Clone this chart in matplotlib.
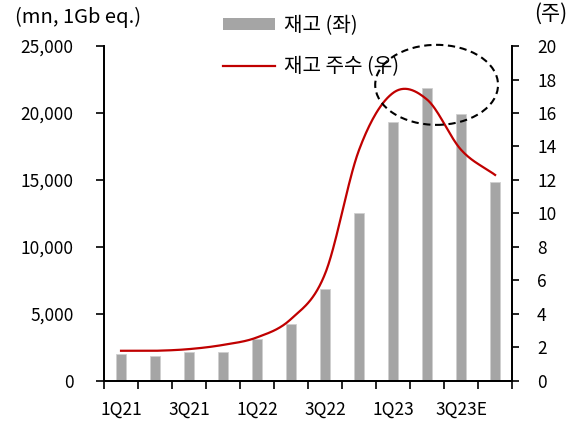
import numpy as np
import matplotlib
matplotlib.use("Agg")
import matplotlib.pyplot as plt
from matplotlib.patches import Ellipse, Patch
from matplotlib.lines import Line2D
from matplotlib.ticker import FuncFormatter

plt.rcParams['font.family'] = ['Noto Sans CJK KR', 'DejaVu Sans']

quarters = ['1Q21', '2Q21', '3Q21', '4Q21', '1Q22', '2Q22',
            '3Q22', '4Q22', '1Q23', '2Q23', '3Q23E', '4Q23E']
# inventory, mn 1Gb eq. (left axis)
inventory = [1990, 1840, 2140, 2140, 3160, 4230, 6870, 12510, 19350, 21840, 19925, 14875]
# inventory weeks (right axis)
weeks = [1.8, 1.8, 1.9, 2.15, 2.6, 3.7, 6.4, 13.8, 17.2, 16.8, 13.8, 12.3]


def smooth_line(y, steps=30):
    # Excel-like smoothed line (cubic Hermite / Catmull-Rom through the points)
    y = np.asarray(y, float)
    x = np.arange(len(y), dtype=float)
    m = np.gradient(y, x)
    xs, ys = [], []
    for i in range(len(y) - 1):
        t = np.linspace(0, 1, steps, endpoint=False)
        h00 = 2 * t**3 - 3 * t**2 + 1
        h10 = t**3 - 2 * t**2 + t
        h01 = -2 * t**3 + 3 * t**2
        h11 = t**3 - t**2
        xs.append(x[i] + t)
        ys.append(h00 * y[i] + h10 * m[i] + h01 * y[i + 1] + h11 * m[i + 1])
    xs.append([x[-1]])
    ys.append([y[-1]])
    return np.concatenate(xs), np.concatenate(ys)


fig = plt.figure(figsize=(5.78, 4.28), dpi=100)
ax = fig.add_axes([0.180, 0.110, 0.706, 0.7825])
ax2 = ax.twinx()

x = np.arange(len(quarters))
ax.bar(x, inventory, width=0.3, color='#a5a5a5', edgecolor='#cfcfcf', linewidth=0.6, zorder=2)
sx, sy = smooth_line(weeks)
ax2.plot(sx, sy, color='#c00000', linewidth=1.6, zorder=3)

ax.set_xlim(-0.5, 11.5)
ax.set_ylim(0, 25000)
ax2.set_ylim(0, 20)

ax.set_yticks(np.arange(0, 25001, 5000))
ax.yaxis.set_major_formatter(FuncFormatter(lambda v, p: f'{int(v):,}'))
ax2.set_yticks(np.arange(0, 21, 2))

ax.set_xticks(x[::2])
ax.set_xticklabels(quarters[::2])
ax.set_xticks(np.arange(-0.5, 12, 1), minor=True)
ax.tick_params(axis='x', which='major', length=0, pad=14, labelsize=12.5)
ax.tick_params(axis='x', which='minor', length=6, width=1.2, direction='out')
ax.tick_params(axis='y', length=6, width=1.2, pad=16, labelsize=12.5)
ax2.tick_params(axis='y', length=5, width=1.2, pad=13, labelsize=12.5)

for a in (ax, ax2):
    a.spines['top'].set_visible(False)
    for s in ('left', 'right', 'bottom'):
        a.spines[s].set_linewidth(1.3)

ax2.add_patch(Ellipse((0.815, 0.884), 0.301, 0.239, transform=ax.transAxes,
                      fill=False, edgecolor='black', linewidth=1.5,
                      linestyle=(0, (3.5, 2.2)), clip_on=False, zorder=5))

fig.text(15 / 578, 1 - 17 / 428, '(mn, 1Gb eq.)', fontsize=14.5, va='center', ha='left')
fig.text(551 / 578, 1 - 14 / 428, '(주)', fontsize=15, va='center', ha='center')

handles = [Patch(facecolor='#a5a5a5', edgecolor='none'),
           Line2D([], [], color='#c00000', linewidth=1.6)]
ax2.legend(handles, ['재고 (좌)', '재고 주수 (우)'], loc='upper left',
           bbox_to_anchor=(223 / 578, 1 - 15 / 428), bbox_transform=fig.transFigure,
           frameon=False, fontsize=14.5, borderpad=0, borderaxespad=0,
           handlelength=2.6, handleheight=0.55, handletextpad=0.45, labelspacing=1.0)

fig.savefig('out.png', dpi=100)
